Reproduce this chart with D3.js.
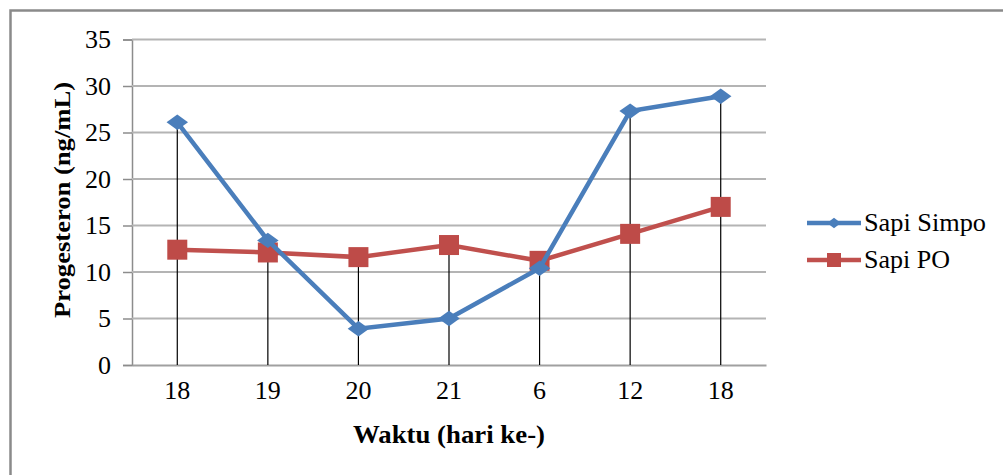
<!DOCTYPE html>
<html>
<head>
<meta charset="utf-8">
<script src="https://cdn.jsdelivr.net/npm/d3@7"></script>
<style>
  body { margin: 0; background: #fff; }
  text { font-family: "Liberation Serif", "Times New Roman", serif; }
</style>
</head>
<body>
<div class="canvas"></div>
<script>
// data
const days = ["18", "19", "20", "21", "6", "12", "18"]
const simpo = [26.1, 13.4, 3.9, 5.0, 10.4, 27.3, 28.9]
const po = [12.4, 12.1, 11.6, 12.9, 11.2, 14.1, 17.0]
const yTicks = [0, 5, 10, 15, 20, 25, 30, 35]
const seriesNames = ["Sapi Simpo", "Sapi PO"]

const width = 1003, height = 475
const plot = { left: 132, right: 766, top: 39.5, bottom: 365 }

const svg = d3.select(".canvas").append("svg")
    .attr("width", width)
    .attr("height", height)

// outer frame
svg.append("rect")
    .attr("x", 10.5).attr("y", 10.5)
    .attr("width", width).attr("height", height)
    .attr("fill", "none")
    .attr("stroke", "#8a8a8a")
    .attr("stroke-width", 2.5)

const x = d3.scaleBand()
    .domain(d3.range(days.length))
    .range([plot.left, plot.right])

const y = d3.scaleLinear()
    .domain([0, 35])
    .range([plot.bottom, plot.top])

const cx = i => x(i) + x.bandwidth() / 2

// gridlines + y axis
const yAxis = svg.append("g")
    .attr("transform", `translate(${plot.left},0)`)
    .call(d3.axisLeft(y).tickValues(yTicks).tickSize(9).tickPadding(12))
yAxis.attr("font-family", "Liberation Serif").attr("font-size", 26)
yAxis.select(".domain").attr("stroke", "#8c8c8c").attr("stroke-width", 1.5)
yAxis.selectAll(".tick line").attr("stroke", "#8c8c8c").attr("stroke-width", 1.5)
yAxis.selectAll(".tick text").attr("fill", "#000")

svg.append("g")
    .selectAll("line")
    .data(yTicks.filter(d => d > 0))
    .enter().append("line")
    .attr("x1", plot.left).attr("x2", plot.right)
    .attr("y1", d => y(d)).attr("y2", d => y(d))
    .attr("stroke", "#b4b4b4")
    .attr("stroke-width", 2)

// x axis
const xAxis = svg.append("g")
    .attr("transform", `translate(0,${plot.bottom})`)
    .call(d3.axisBottom(x).tickFormat(i => days[i]).tickSize(0).tickPadding(16))
xAxis.attr("font-family", "Liberation Serif").attr("font-size", 26)
xAxis.select(".domain").attr("stroke", "#a0a0a0").attr("stroke-width", 2)
xAxis.selectAll(".tick text").attr("fill", "#000")

// drop lines from the higher point to the axis
svg.append("g")
    .selectAll("line")
    .data(days)
    .enter().append("line")
    .attr("x1", (d, i) => cx(i)).attr("x2", (d, i) => cx(i))
    .attr("y1", (d, i) => y(Math.max(simpo[i], po[i])))
    .attr("y2", plot.bottom)
    .attr("stroke", "#000")
    .attr("stroke-width", 1.2)

const line = d3.line().x((d, i) => cx(i)).y(d => y(d))

// Sapi PO
svg.append("path")
    .datum(po)
    .attr("d", line)
    .attr("fill", "none")
    .attr("stroke", "#c0504d")
    .attr("stroke-width", 4.5)
svg.append("g")
    .selectAll("rect")
    .data(po)
    .enter().append("rect")
    .attr("x", (d, i) => cx(i) - 10)
    .attr("y", d => y(d) - 10)
    .attr("width", 20).attr("height", 20)
    .attr("fill", "#be4b48")

// Sapi Simpo
svg.append("path")
    .datum(simpo)
    .attr("d", line)
    .attr("fill", "none")
    .attr("stroke", "#4a7ebb")
    .attr("stroke-width", 4.5)
svg.append("g")
    .selectAll("path")
    .data(simpo)
    .enter().append("path")
    .attr("d", d3.symbol(d3.symbolDiamond2, 150))
    .attr("transform", (d, i) => `translate(${cx(i)},${y(d)}) scale(1.4,1)`)
    .attr("fill", "#4a7ebb")

// axis titles
svg.append("text")
    .attr("x", 449).attr("y", 443)
    .attr("text-anchor", "middle")
    .attr("font-size", 25)
    .attr("font-weight", "bold")
    .attr("textLength", 192)
    .attr("lengthAdjust", "spacingAndGlyphs")
    .text("Waktu (hari ke-)")

svg.append("text")
    .attr("transform", "translate(70,200) rotate(-90)")
    .attr("text-anchor", "middle")
    .attr("font-size", 24)
    .attr("font-weight", "bold")
    .attr("textLength", 236)
    .attr("lengthAdjust", "spacingAndGlyphs")
    .text("Progesteron (ng/mL)")

// legend
const legend = svg.append("g")
const legY = [223, 260]
const legColors = ["#4a7ebb", "#c0504d"]

legend.selectAll("line")
    .data(seriesNames)
    .enter().append("line")
    .attr("x1", 807).attr("x2", 861)
    .attr("y1", (d, i) => legY[i]).attr("y2", (d, i) => legY[i])
    .attr("stroke", (d, i) => legColors[i])
    .attr("stroke-width", 4.5)

legend.append("path")
    .attr("d", d3.symbol(d3.symbolDiamond2, 70))
    .attr("transform", `translate(834,${legY[0]}) scale(1.3,1)`)
    .attr("fill", "#4a7ebb")
legend.append("rect")
    .attr("x", 827).attr("y", legY[1] - 7)
    .attr("width", 14).attr("height", 14)
    .attr("fill", "#be4b48")

legend.selectAll("text")
    .data(seriesNames)
    .enter().append("text")
    .attr("x", 864)
    .attr("y", (d, i) => legY[i] + 8)
    .attr("font-size", 25)
    .attr("textLength", (d, i) => i === 0 ? 122 : 86)
    .attr("lengthAdjust", "spacingAndGlyphs")
    .text(d => d)
</script>
</body>
</html>
